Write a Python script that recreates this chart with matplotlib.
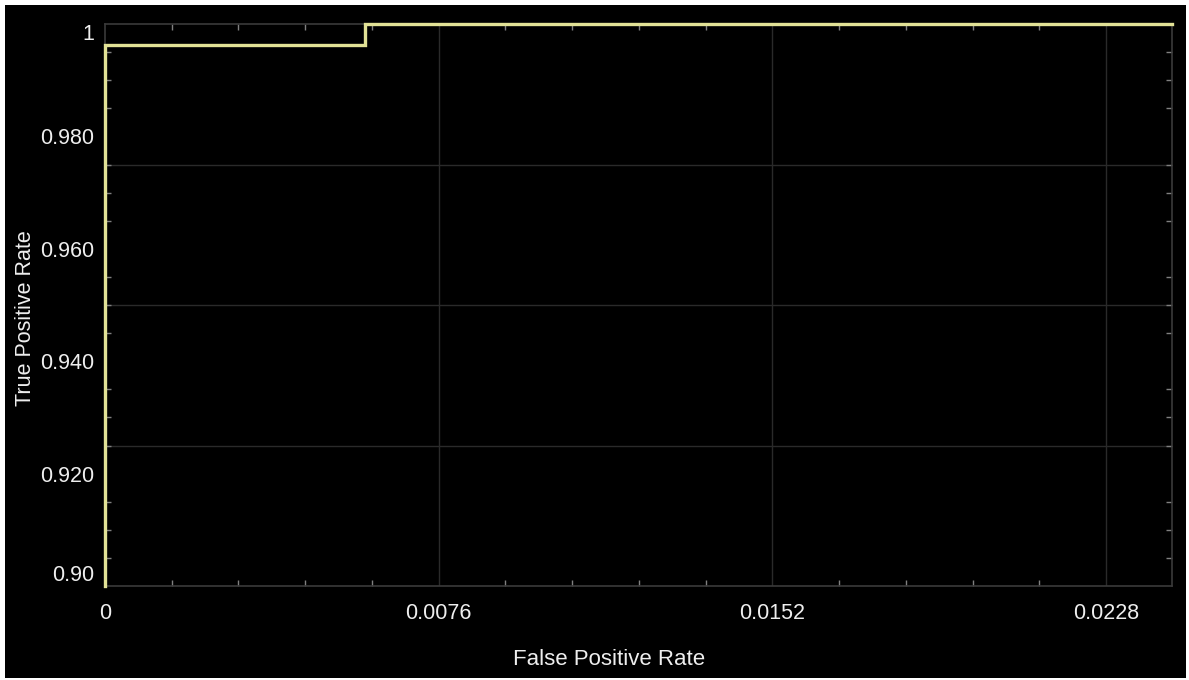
import numpy as np
import matplotlib
matplotlib.use('Agg')
import matplotlib.pyplot as plt
from matplotlib.ticker import MultipleLocator, FixedLocator

plt.rcParams['font.family'] = ['Liberation Sans', 'DejaVu Sans']

# ROC curve (step points)
fpr = [0.0, 0.0, 0.00592, 0.00592, 0.0243]
tpr = [0.90, 0.9963, 0.9963, 1.0, 1.0]

x_ticks = [0, 0.0076, 0.0152, 0.0228]
x_labels = ['0', '0.0076', '0.0152', '0.0228']
y_ticks = [0.90, 0.92, 0.94, 0.96, 0.98, 1.0]
y_labels = ['0.90', '0.920', '0.940', '0.960', '0.980', '1']
y_grid = [0.925, 0.95, 0.975]

fig = plt.figure(figsize=(11.89, 6.80), dpi=100, facecolor='white')
# black panel with a thin white margin
fig.patches.append(plt.Rectangle((5/1189, 2/680), 1181/1189, 673/680,
                                 transform=fig.transFigure, facecolor='black',
                                 edgecolor='none', zorder=-10))

ax = fig.add_axes([105/1189, 1 - 586/680, 1067/1189, 562/680])
ax.set_facecolor('black')

ax.plot(fpr, tpr, color='#e2e296', lw=2.4, solid_joinstyle='miter', zorder=3,
        clip_on=False)

ax.set_xlim(0, 0.0243)
ax.set_ylim(0.90, 1.0)

ax.xaxis.set_major_locator(FixedLocator(x_ticks))
ax.set_xticklabels(x_labels)
ax.xaxis.set_minor_locator(MultipleLocator(0.00152))
ax.yaxis.set_major_locator(FixedLocator(y_ticks))
ax.set_yticklabels(y_labels)
ax.yaxis.set_minor_locator(MultipleLocator(0.005))

for x in x_ticks[1:]:
    ax.axvline(x, color='#2a2a2a', lw=1, zorder=1)
for y in y_grid:
    ax.axhline(y, color='#2a2a2a', lw=1, zorder=1)

ax.tick_params(which='both', direction='in', colors='#808080', top=True, right=True,
               labelcolor='#eeeeee', labelsize=15.5)
ax.tick_params(which='major', length=0)
ax.tick_params(axis='y', which='major', pad=8)
ax.tick_params(axis='x', which='major', pad=12)
ax.tick_params(which='minor', length=4, width=1)

# keep end labels inside the plot height
ylabs = ax.get_yticklabels()
ylabs[0].set_va('bottom')
ylabs[-1].set_va('top')

for s in ax.spines.values():
    s.set_color('#3a3a3a')
    s.set_linewidth(1.2)

ax.set_xlabel('False Positive Rate', color='#eeeeee', fontsize=16, labelpad=18)
ax.set_ylabel('True Positive Rate', color='#eeeeee', fontsize=15.5, labelpad=3)
ax.xaxis.label.set_x(0.472)
ax.yaxis.label.set_y(0.477)

fig.savefig('out.png', dpi=100, facecolor='white')
